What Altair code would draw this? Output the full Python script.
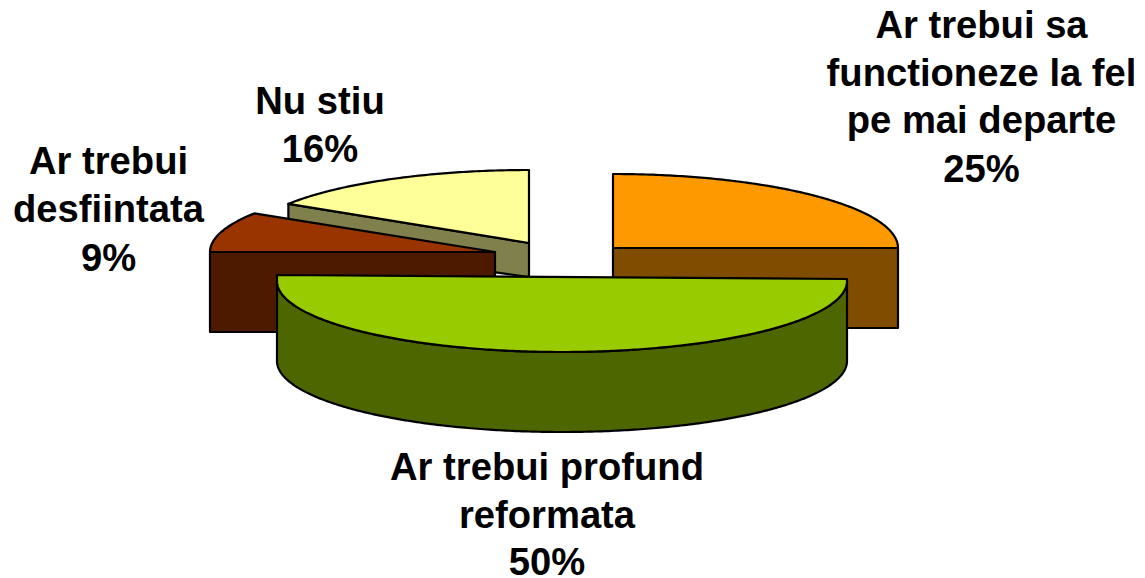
import math
import altair as alt
import pandas as pd

# Data (clockwise from 12 o'clock)
categories = ["Ar trebui sa functioneze la fel pe mai departe", "Ar trebui profund reformata",
              "Ar trebui desfiintata", "Nu stiu"]
shares = [25, 50, 9, 16]
top_colors = ["#FF9900", "#99CC00", "#993300", "#FFFF99"]
side_colors = ["#804D00", "#4D6600", "#4D1A00", "#80804D"]
label_lines = [
    ["Ar trebui sa", "functioneze la fel", "pe mai departe", "25%"],
    ["Ar trebui profund", "reformata", "50%"],
    ["Ar trebui", "desfiintata", "9%"],
    ["Nu stiu", "16%"],
]

# Layout of the exploded 3-D pie, in page pixels
W, H = 1129, 568
OX, OY = 8, 8
RX, DEPTH = 285, 80
centers = [(613, 248, 74), (562, 281, 71), (495, 252, 72), (529, 243, 73)]
label_x = [981.5, 547, 108.5, 320]
label_y = [[38, 86, 133, 182], [480, 528, 575], [174, 222, 271], [114, 162]]

X = alt.Scale(domain=[OX, OX + W], range=[0, W])
Y = alt.Scale(domain=[OY, OY + H], range=[0, H])


def arc(c, a0, a1):
    cx, cy, ry = c
    n = max(2, int(abs(a1 - a0) * 1.5))
    pts = []
    for i in range(n + 1):
        t = math.radians(a0 + (a1 - a0) * i / n)
        pts.append((cx + RX * math.sin(t), cy - ry * math.cos(t)))
    return pts


def poly(points, fill, sw=2.2):
    df = pd.DataFrame({"x": [p[0] for p in points], "y": [p[1] for p in points],
                       "o": list(range(len(points)))})
    return alt.Chart(df).mark_line(
        fill=fill, stroke="#000000", strokeWidth=sw, interpolate="linear-closed",
        strokeJoin="round", clip=False
    ).encode(
        x=alt.X("x:Q", scale=X, axis=None),
        y=alt.Y("y:Q", scale=Y, axis=None),
        order="o:Q",
    )


angles = []
acc = 0
for s in shares:
    angles.append((acc * 3.6, (acc + s) * 3.6))
    acc += s

layers = []

# Nu stiu: cut face behind, then top
cx, cy, ry = centers[3]
a0, a1 = angles[3]
tip = arc(centers[3], a0, a0 + 1)[0]
layers.append(poly([tip, (cx, cy), (cx, cy + DEPTH - 46), (tip[0], tip[1] + 40)], side_colors[3]))
layers.append(poly([(cx, cy)] + arc(centers[3], a0, a1), top_colors[3]))

# Orange: side, top
cx, cy, ry = centers[0]
layers.append(poly([(cx, cy), (cx + RX, cy), (cx + RX, cy + DEPTH), (cx, cy + DEPTH)], side_colors[0]))
layers.append(poly([(cx, cy)] + arc(centers[0], *angles[0]), top_colors[0]))

# Red: side, top
cx, cy, ry = centers[2]
layers.append(poly([(cx - RX, cy), (cx, cy), (cx, cy + DEPTH), (cx - RX, cy + DEPTH)], side_colors[2]))
layers.append(poly([(cx, cy)] + arc(centers[2], *angles[2]), top_colors[2]))

# Green: rim, then top
cx, cy, ry = centers[1]
a0, a1 = angles[1]
rim_top = arc(centers[1], a0, a1)
rim_bot = [(x, y + DEPTH) for x, y in rim_top]
layers.append(poly(rim_top + rim_bot[::-1], side_colors[1]))
layers.append(poly(rim_top + [(cx - RX, cy - 6), (cx + RX, cy - 2)], top_colors[1]))

# Labels
rows = []
for lines, lx, ys in zip(label_lines, label_x, label_y):
    for line, ly in zip(lines, ys):
        rows.append({"t": line, "x": lx, "y": ly})
text = alt.Chart(pd.DataFrame(rows)).mark_text(
    font="Liberation Sans", fontWeight="bold", fontSize=38.2, color="#000000",
    align="center", baseline="alphabetic"
).encode(
    x=alt.X("x:Q", scale=X, axis=None),
    y=alt.Y("y:Q", scale=Y, axis=None),
    text="t:N",
)
layers.append(text)

chart = alt.layer(*layers).properties(
    width=W, height=H, padding=0, autosize=alt.AutoSizeParams(type="none"), background="#ffffff"
).configure_view(stroke=None)

chart.save("out.html", embed_options={"renderer": "svg", "actions": False})
